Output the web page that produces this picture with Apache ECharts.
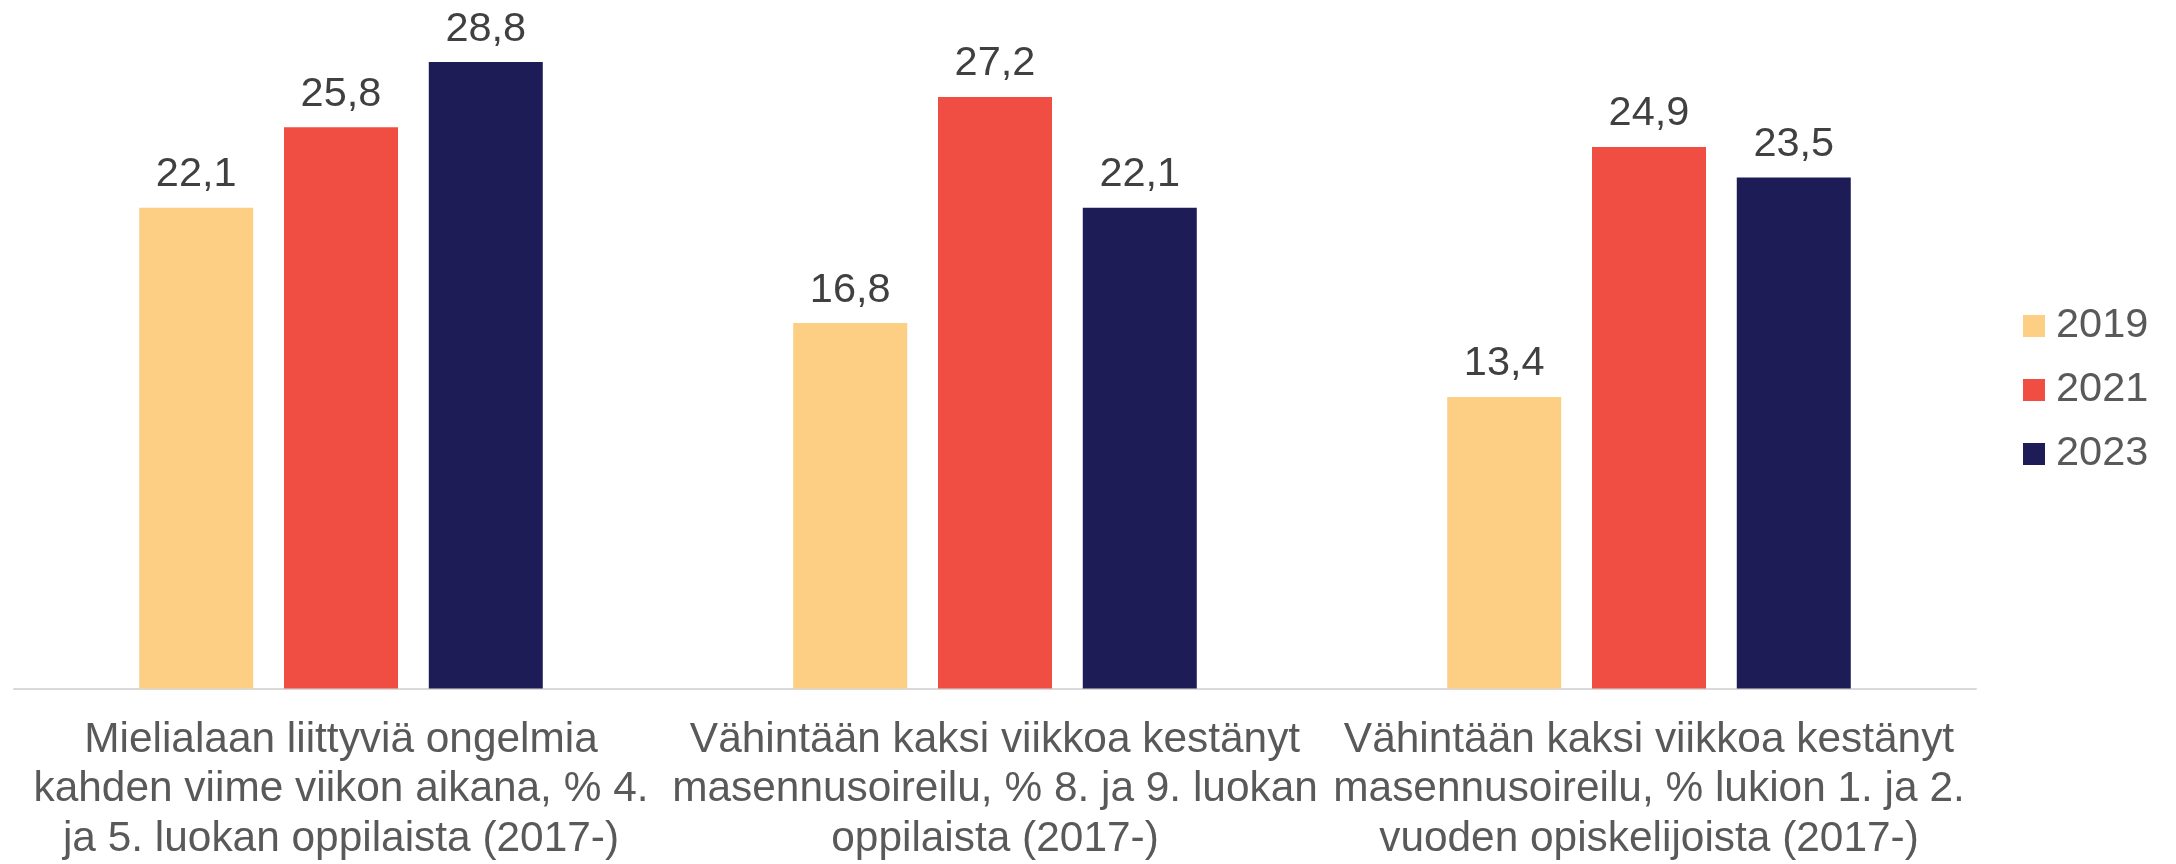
<!DOCTYPE html>
<html>
<head>
<meta charset="utf-8">
<script src="https://cdn.jsdelivr.net/npm/echarts@6/dist/echarts.min.js"></script>
<style>
html,body{margin:0;padding:0;background:#fff;}
#chart{width:2176px;height:864px;}
</style>
</head>
<body>
<div id="chart"></div>
<script>
const categories = [
  "Mielialaan liittyviä ongelmia\nkahden viime viikon aikana, % 4.\nja 5. luokan oppilaista (2017-)",
  "Vähintään kaksi viikkoa kestänyt\nmasennusoireilu, % 8. ja 9. luokan\noppilaista (2017-)",
  "Vähintään kaksi viikkoa kestänyt\nmasennusoireilu, % lukion 1. ja 2.\nvuoden opiskelijoista (2017-)"
];
const seriesNames = ["2019", "2021", "2023"];
const values2019 = [22.1, 16.8, 13.4];
const values2021 = [25.8, 27.2, 24.9];
const values2023 = [28.8, 22.1, 23.5];
const colors = ["#FDCF85", "#F04E42", "#1E1C56"];

const FONT = "Arial, 'Liberation Sans', sans-serif";
const allValues = [values2019, values2021, values2023];

const chart = echarts.init(document.getElementById('chart'), null, {renderer: 'canvas'});
chart.setOption({
  animation: false,
  backgroundColor: '#ffffff',
  textStyle: {fontFamily: FONT},
  grid: {left: 14, width: 1962, top: 36, bottom: 173, containLabel: false},
  legend: {
    orient: 'vertical',
    left: 2023,
    top: 305,
    padding: 0,
    itemWidth: 22,
    itemHeight: 22,
    itemGap: 22,
    icon: 'rect',
    data: seriesNames,
    textStyle: {fontSize: 41.5, lineHeight: 41, color: '#595959', fontFamily: FONT, padding: [0, 0, 0, 6]}
  },
  xAxis: {
    type: 'category',
    data: categories,
    axisLine: {show: true, lineStyle: {color: '#D9D9D9', width: 2}},
    axisTick: {show: false},
    axisLabel: {
      interval: 0,
      margin: 27,
      fontSize: 42.4,
      lineHeight: 49.5,
      color: '#595959',
      fontFamily: FONT,
      align: 'center'
    }
  },
  yAxis: {
    type: 'value',
    min: 0,
    max: 30,
    show: false,
    splitLine: {show: false}
  },
  series: seriesNames.map((name, i) => ({
    name: name,
    type: 'bar',
    data: allValues[i],
    barWidth: 114,
    barGap: '27%',
    itemStyle: {color: colors[i]},
    label: {
      show: true,
      position: 'top',
      distance: 12,
      fontSize: 41.5,
      color: '#404040',
      fontFamily: FONT,
      formatter: p => String(p.value.toFixed(1)).replace('.', ',')
    }
  }))
});
</script>
</body>
</html>
